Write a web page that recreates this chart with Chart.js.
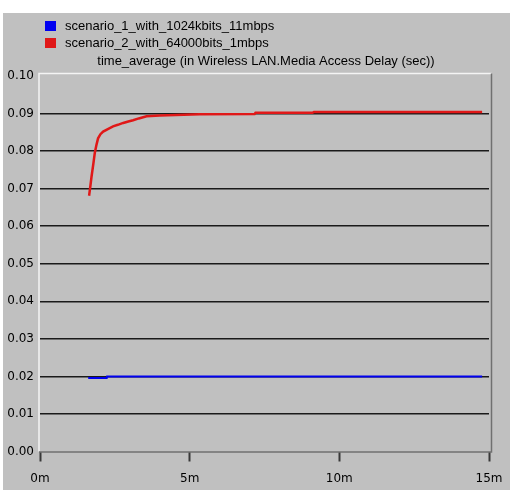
<!DOCTYPE html>
<html>
<head>
<meta charset="utf-8">
<script src="https://cdn.jsdelivr.net/npm/chart.js@4/dist/chart.umd.min.js"></script>
<style>
    html, body { margin: 0; padding: 0; background: #fff; }
    #box { position: absolute; left: 3px; top: 13px; width: 507px; height: 477px; background: #c0c0c0; }
</style>
</head>
<body>
<div id="box"><canvas id="delay"></canvas></div>
<script>
// series labels and title
const seriesNames = ['scenario_1_with_1024kbits_11mbps', 'scenario_2_with_64000bits_1mbps'];
const seriesColors = ['#0000f0', '#e01818'];
const chartTitle = 'time_average (in Wireless LAN.Media Access Delay (sec))';

// scenario 1 (time in minutes, delay in sec)
const s1Time = [1.61, 2.23, 2.24, 14.77];
const s1Delay = [0.0196, 0.0196, 0.0200, 0.0200];

// scenario 2
const s2Time = [1.64, 1.68, 1.72, 1.78, 1.83, 1.89, 1.94, 2.02, 2.11, 2.25, 2.44, 2.6, 2.78, 2.95, 3.11, 3.3, 3.56, 4.0, 5.33, 7.17, 7.2, 9.1, 9.15, 14.77];
const s2Delay = [0.0681, 0.0705, 0.0731, 0.0765, 0.0795, 0.0818, 0.0834, 0.0845, 0.0852, 0.0858, 0.0866, 0.0870, 0.0875, 0.0879, 0.0882, 0.0887, 0.0893, 0.0895, 0.0898, 0.0899, 0.0902, 0.0902, 0.0904, 0.0904];

// axis ticks
const xTicks = [0, 5, 10, 15];
const yMin = 0, yMax = 0.10, yStep = 0.01;

function pts(t, v) {
    return t.map((x, i) => ({ x: x, y: v[i] }));
}

const FONT = "'Liberation Sans', Arial, sans-serif";
const TICKFONT = "'DejaVu Sans', sans-serif";

// legend, title and plot frame drawn by hand
const decor = {
    id: 'decor',
    beforeDatasetsDraw(chart) {
        const c = chart.ctx, a = chart.chartArea;
        c.save();
        c.lineWidth = 1.5;
        c.strokeStyle = '#f4f4f4';
        c.beginPath();
        c.moveTo(a.left - 1, a.bottom);
        c.lineTo(a.left - 1, a.top - 2.5);
        c.lineTo(a.right + 2.5, a.top - 2.5);
        c.stroke();
        c.strokeStyle = '#707070';
        c.beginPath();
        c.moveTo(a.right + 2.5, a.top - 2.5);
        c.lineTo(a.right + 2.5, a.bottom + 0.5);
        c.lineTo(a.left - 1, a.bottom + 0.5);
        c.stroke();
        c.restore();
    },
    afterDraw(chart) {
        const c = chart.ctx;
        c.save();
        c.font = '13px ' + FONT;
        c.textBaseline = 'middle';
        chart.data.datasets.forEach((ds, i) => {
            const y = 13 + i * 17;
            c.fillStyle = ds.borderColor;
            c.fillRect(42, y - 5, 11, 10);
            c.fillStyle = '#000';
            c.textAlign = 'left';
            c.fillText(ds.label, 62, y);
        });
        c.textAlign = 'center';
        c.fillText(chartTitle, 263, 48);
        c.restore();
    }
};

new Chart(document.getElementById('delay'), {
    type: 'line',
    data: {
        datasets: [{
            label: seriesNames[0],
            data: pts(s1Time, s1Delay),
            borderColor: seriesColors[0],
            borderWidth: 2,
            pointRadius: 0,
            tension: 0
        }, {
            label: seriesNames[1],
            data: pts(s2Time, s2Delay),
            borderColor: seriesColors[1],
            borderWidth: 2.5,
            pointRadius: 0,
            tension: 0
        }]
    },
    options: {
        responsive: true,
        maintainAspectRatio: false,
        animation: false,
        layout: { padding: { top: 63, right: 21, left: 0, bottom: 0 } },
        plugins: {
            legend: { display: false },
            title: { display: false },
            tooltip: { enabled: false }
        },
        scales: {
            x: {
                type: 'linear',
                min: 0,
                max: 15,
                afterBuildTicks: s => { s.ticks = xTicks.map(v => ({ value: v })); },
                afterFit: s => { s.height = 38.5; s.paddingLeft = 0; s.paddingRight = 0; },
                border: { display: false },
                grid: {
                    drawOnChartArea: false,
                    drawTicks: true,
                    tickLength: 10,
                    tickColor: '#383838',
                    tickWidth: 2
                },
                ticks: {
                    color: '#000',
                    padding: 10,
                    font: { family: TICKFONT, size: 12 },
                    callback: v => v + 'm'
                }
            },
            y: {
                min: yMin,
                max: yMax,
                afterFit: s => { s.width = 37; },
                border: { display: false },
                grid: {
                    drawTicks: false,
                    lineWidth: 1.5,
                    color: ctx => (ctx.tick && (ctx.tick.value < 0.001 || ctx.tick.value > 0.099)) ? 'rgba(0,0,0,0)' : '#1a1a1a'
                },
                ticks: {
                    stepSize: yStep,
                    color: '#000',
                    padding: 6,
                    font: { family: TICKFONT, size: 12 },
                    callback: v => v.toFixed(2)
                }
            }
        }
    },
    plugins: [decor]
});
</script>
</body>
</html>
